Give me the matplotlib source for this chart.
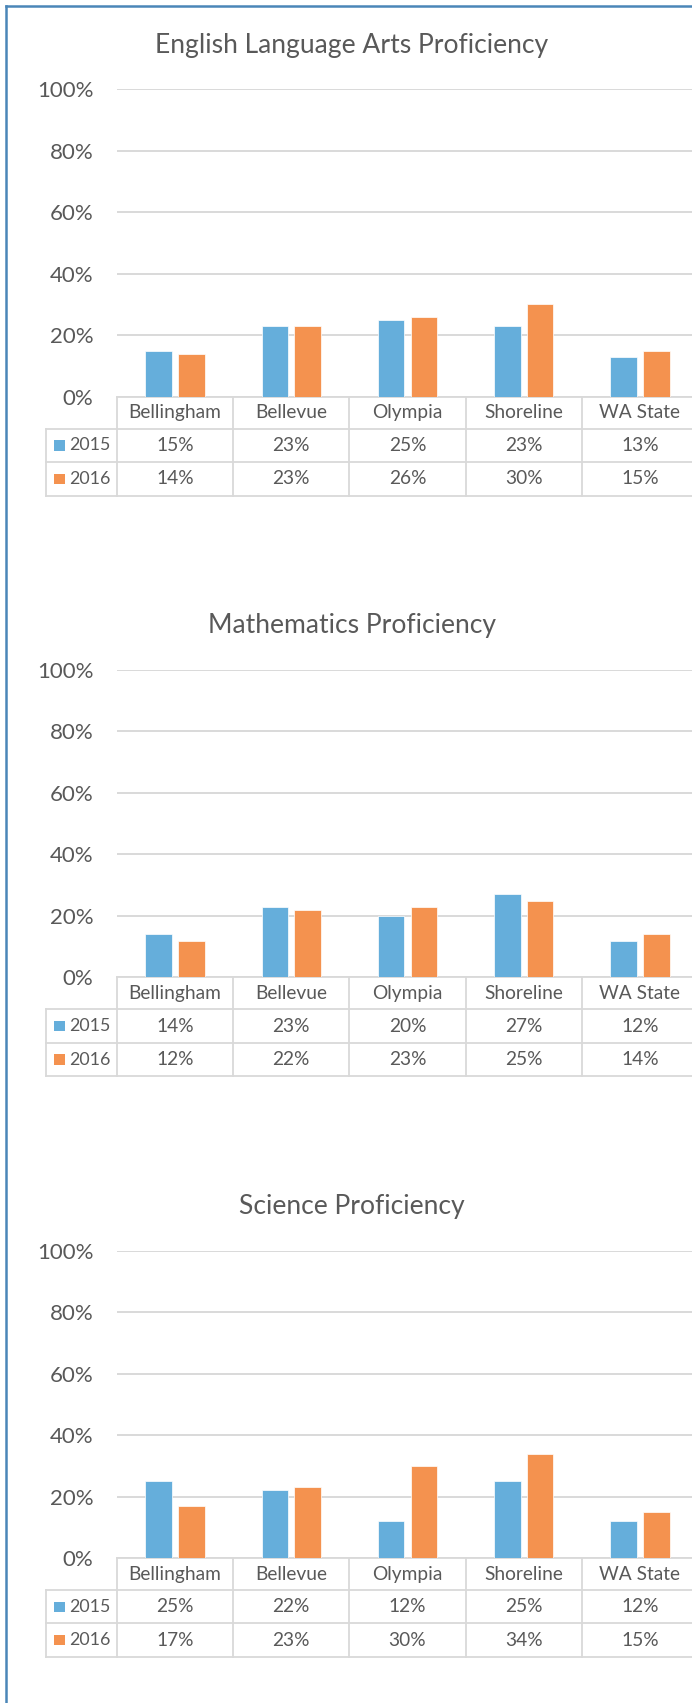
import matplotlib
matplotlib.use("Agg")
import matplotlib.pyplot as plt
from matplotlib.transforms import blended_transform_factory
from matplotlib.patches import Rectangle
from matplotlib.lines import Line2D

# data
cities = ["Bellingham", "Bellevue", "Olympia", "Shoreline", "WA State"]
years = ["2015", "2016"]
titles = ["English Language Arts Proficiency", "Mathematics Proficiency", "Science Proficiency"]

ela_2015 = [15, 23, 25, 23, 13]
ela_2016 = [14, 23, 26, 30, 15]
math_2015 = [14, 23, 20, 27, 12]
math_2016 = [12, 22, 23, 25, 14]
sci_2015 = [25, 22, 12, 25, 12]
sci_2016 = [17, 23, 30, 34, 15]

charts = [(ela_2015, ela_2016), (math_2015, math_2016), (sci_2015, sci_2016)]

blue = "#65AEDB"
orange = "#F4924F"
txt = "#595959"
grid_c = "#D9D9D9"

plt.rcParams['font.family'] = ['Lato', 'DejaVu Sans']

W, H = 692, 1703
fig = plt.figure(figsize=(W / 100, H / 100), dpi=100)

# pixel layout
ax_left = 117
ax_w = 581
col_w = ax_w / 5
ax_h = 307.4
zero0 = 396.7
step = 580.7
row_fr = [0.0, 0.104, 0.2127, 0.3217]


def xpx(p):
    return -0.5 + (p - ax_left) / col_w


for k, (s15, s16) in enumerate(charts):
    zero_y = zero0 + step * k
    ax = fig.add_axes([ax_left / W, 1 - zero_y / H, ax_w / W, ax_h / H])
    x = range(len(cities))
    ax.bar([i - 0.141 for i in x], s15, width=0.228, color=blue, edgecolor="white", linewidth=0.5, zorder=3)
    ax.bar([i + 0.141 for i in x], s16, width=0.228, color=orange, edgecolor="white", linewidth=0.5, zorder=3)
    ax.set_xlim(-0.5, 4.5)
    ax.set_ylim(0, 100)
    ax.set_yticks([0, 20, 40, 60, 80, 100])
    ax.set_yticklabels([f"{v}%" for v in [0, 20, 40, 60, 80, 100]])
    ax.set_xticks([])
    ax.tick_params(axis="y", length=0, pad=17, labelsize=16, labelcolor=txt)
    ax.grid(axis="y", color=grid_c, linewidth=1.4, zorder=0)
    for sp in ax.spines.values():
        sp.set_visible(False)

    tr = blended_transform_factory(ax.transData, ax.transAxes)
    lk = dict(color=grid_c, linewidth=1.3, transform=tr, clip_on=False, zorder=1)
    leg_x = xpx(46)
    right = 4.5
    # horizontal table lines
    ax.plot([-0.5, right], [0, 0], **lk)
    for r in row_fr[1:]:
        ax.plot([leg_x, right], [-r, -r], **lk)
    # vertical table lines
    ax.plot([leg_x, leg_x], [-row_fr[1], -row_fr[3]], **lk)
    for c in range(6):
        ax.plot([c - 0.5, c - 0.5], [0, -row_fr[3]], **lk)

    # category labels
    for i, name in enumerate(cities):
        ax.text(i, -(row_fr[0] + row_fr[1]) / 2, name, transform=tr, ha="center", va="center",
                fontsize=13.8, color=txt)
    # value rows
    for j, (yr, vals, col) in enumerate([(years[0], s15, blue), (years[1], s16, orange)]):
        yc = -(row_fr[j + 1] + row_fr[j + 2]) / 2
        for i, v in enumerate(vals):
            ax.text(i, yc, f"{v}%", transform=tr, ha="center", va="center", fontsize=13.8, color=txt)
        sq = 10.5
        ax.add_patch(Rectangle((xpx(54), yc - sq / 2 / ax_h), sq / col_w, sq / ax_h,
                               transform=tr, facecolor=col, edgecolor="none", clip_on=False))
        ax.text(xpx(69), yc, yr, transform=tr, ha="left", va="center", fontsize=12.8, color=txt)

    fig.text(351.5 / W, 1 - (45 + step * k) / H, titles[k], ha="center", va="center",
             fontsize=19.1, color=txt)

# outer frame (left and top edges are visible)
border = "#4A86B8"
fig.add_artist(Line2D([6 / W, 6 / W], [0, 1 - 5.7 / H], color=border, linewidth=1.8))
fig.add_artist(Line2D([6 / W, 1], [1 - 5.7 / H, 1 - 5.7 / H], color=border, linewidth=1.8))

fig.savefig("out.png", dpi=100)
